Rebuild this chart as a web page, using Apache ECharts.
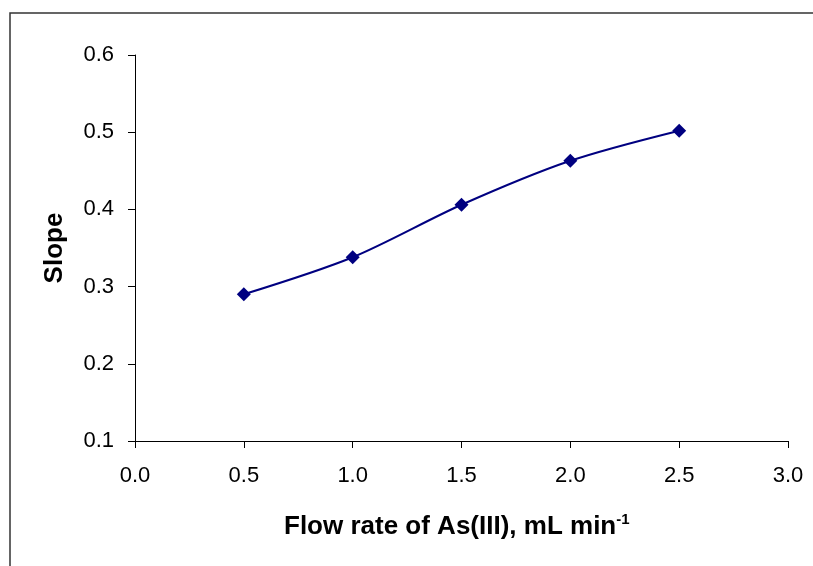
<!DOCTYPE html>
<html>
<head>
<meta charset="utf-8">
<script src="https://cdn.jsdelivr.net/npm/echarts@6/dist/echarts.min.js"></script>
<style>
  html, body { margin: 0; padding: 0; background: #fff; }
  #chart { width: 813px; height: 566px; }
</style>
</head>
<body>
<div id="chart"></div>
<script>
// flow rate (mL/min) and measured slope
const flowRates = [0.5, 1.0, 1.5, 2.0, 2.5]
const slopes = [0.290, 0.338, 0.406, 0.463, 0.502]

const xTitle = 'Flow rate of As(III), mL min'
const yTitle = 'Slope'

const chart = echarts.init(document.getElementById('chart'))

chart.setOption({
  animation: false,
  backgroundColor: '#fff',
  textStyle: { fontFamily: 'Liberation Sans' },
  graphic: [
    {
      type: 'rect',
      shape: { x: 10, y: 13, width: 812, height: 560 },
      style: { fill: 'none', stroke: '#333', lineWidth: 1.5 }
    },
    {
      type: 'text',
      x: 284,
      y: 512,
      style: {
        text: '{t|' + xTitle + '}{s|-1}',
        rich: {
          t: { fontSize: 26, fontWeight: 'bold', fill: '#000', fontFamily: 'Liberation Sans' },
          s: { fontSize: 15, fontWeight: 'bold', fill: '#000', fontFamily: 'Liberation Sans', verticalAlign: 'top', padding: [0, 0, 15, 0] }
        }
      }
    }
  ],
  grid: { left: 135, top: 55, right: 25, bottom: 125 },
  xAxis: {
    type: 'value',
    min: 0,
    max: 3,
    interval: 0.5,
    axisLine: { lineStyle: { color: '#000', width: 1 } },
    axisTick: { inside: false, length: 7, lineStyle: { color: '#000' } },
    axisLabel: {
      color: '#000',
      fontSize: 22,
      margin: 24,
      formatter: v => v.toFixed(1)
    },
    splitLine: { show: false }
  },
  yAxis: {
    type: 'value',
    min: 0.1,
    max: 0.6,
    interval: 0.1,
    name: yTitle,
    nameLocation: 'middle',
    nameGap: 67,
    nameTextStyle: { color: '#000', fontSize: 26, fontWeight: 'bold' },
    axisLine: { show: true, lineStyle: { color: '#000', width: 1 } },
    axisTick: { show: true, inside: false, length: 7, lineStyle: { color: '#000' } },
    axisLabel: {
      color: '#000',
      fontSize: 22,
      margin: 21,
      formatter: v => v.toFixed(1)
    },
    splitLine: { show: false }
  },
  series: [
    {
      type: 'line',
      data: flowRates.map((x, i) => [x, slopes[i]]),
      smooth: 0.3,
      symbol: 'diamond',
      symbolSize: 14,
      itemStyle: { color: '#000080' },
      lineStyle: { color: '#000080', width: 2 }
    }
  ]
})
</script>
</body>
</html>
